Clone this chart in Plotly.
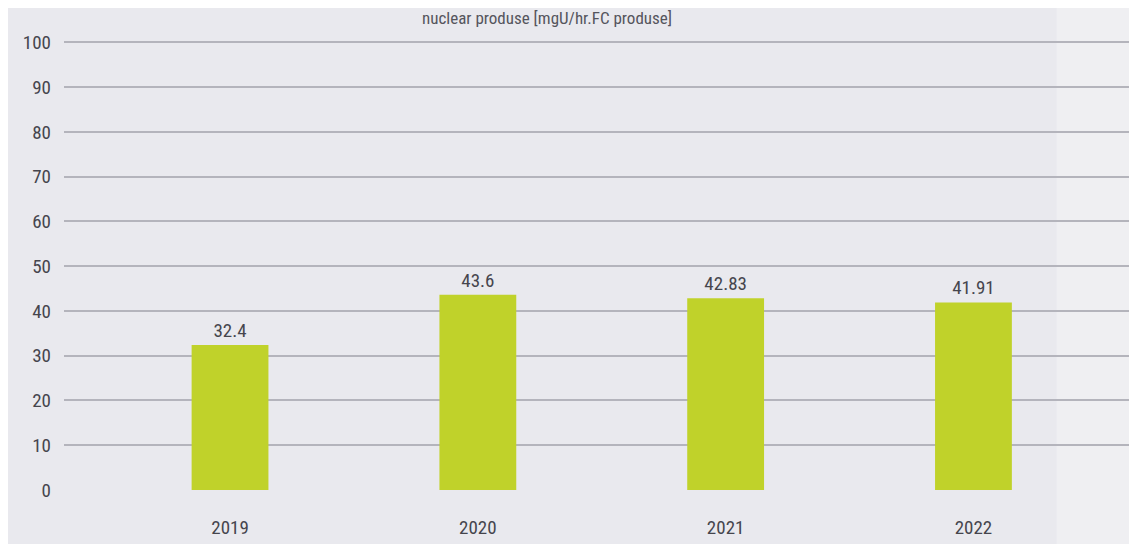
import plotly.graph_objects as go

# data
years = ["2019", "2020", "2021", "2022"]
values = [32.4, 43.6, 42.83, 41.91]
labels = ["32.4", "43.6", "42.83", "41.91"]
y_ticks = [0, 10, 20, 30, 40, 50, 60, 70, 80, 90, 100]

title_text = "nuclear produse [mgU/hr.FC produse]"

FONT = "Liberation Sans Narrow, Roboto Condensed, DejaVu Sans Condensed, sans-serif"
TEXT = "#45454d"
BAR = "#c0d22a"

fig = go.Figure()

fig.add_trace(go.Bar(
    x=years,
    y=values,
    text=labels,
    textposition="outside",
    textfont=dict(family=FONT, size=19, color=TEXT),
    marker=dict(color=BAR, line=dict(width=0)),
    width=0.31,
    cliponaxis=False,
    showlegend=False,
))

# lighter band on the right side of the background
fig.add_shape(
    type="rect", xref="paper", yref="paper",
    x0=0.925, x1=1.0, y0=-0.2, y1=1.2,
    fillcolor="#efeff2", line=dict(width=0), layer="below",
)

fig.add_annotation(
    text=title_text, xref="paper", yref="paper",
    x=0.45, y=1.0, yshift=23, yanchor="middle",
    showarrow=False,
    font=dict(family=FONT, size=17, color="#55555d"),
)

# page body has an 8px margin, so the figure is trimmed to fit the window
fig.update_layout(
    width=1129, height=536,
    margin=dict(l=56, r=0, t=33, b=54),
    paper_bgcolor="#e9e9ee",
    plot_bgcolor="rgba(0,0,0,0)",
    font=dict(family=FONT, color=TEXT),
    xaxis=dict(
        type="category",
        range=[-0.67, 3.66],
        showgrid=False, zeroline=False, showline=False,
        ticks="", ticklabelstandoff=24,
        tickfont=dict(family=FONT, size=19, color=TEXT),
    ),
    yaxis=dict(
        range=[0, 100.3],
        tickvals=y_ticks,
        showgrid=True, gridcolor="#b4b4bc", gridwidth=1.5,
        zeroline=False, showline=False,
        ticks="", ticklabelstandoff=12,
        tickfont=dict(family=FONT, size=19, color=TEXT),
    ),
)

fig.write_html("out.html")
